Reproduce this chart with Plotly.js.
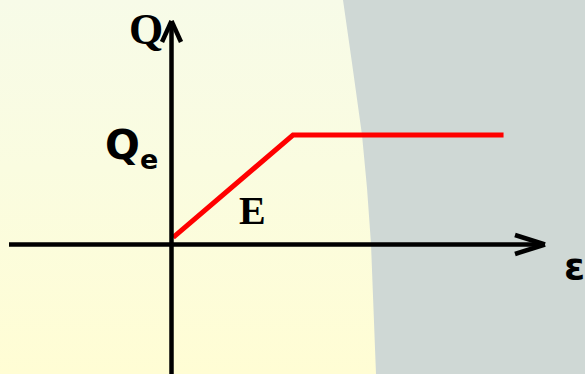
<!DOCTYPE html>
<html>
<head>
<meta charset="utf-8">
<script src="https://cdn.plot.ly/plotly-3.0.1.min.js"></script>
<style>
  html, body { margin: 0; padding: 0; }
  #chart { width: 585px; height: 374px;
    background: linear-gradient(to bottom, #F7FBE8 0%, #FAFCE0 45%, #FFFDD4 100%); }
</style>
</head>
<body>
<div id="chart"></div>
<script>
// Data (strain ε vs. stress Q, elastic–perfectly plastic)
const strain = [0.01, 1, 2.74];
const stress = [0.06, 1, 1];
const yAxisLabel = 'Q';
const xAxisLabel = 'ε';
const yieldLabel = 'Q';
const yieldSub = 'e';
const slopeLabel = 'E';

const W = 585, H = 374;
const X0 = 172, Y0 = 244, SX = 121, SY = 109;
const px = v => v / W;
const py = v => 1 - v / H;

// gray background region (right side), curved boundary
const bnd = [[343,0],[352,63],[362,135],[367,188],[371,244],[376,374]];
let path = 'M ' + bnd.map(p => px(p[0]) + ',' + py(p[1])).join(' L ');
path += ' L ' + px(W) + ',' + py(H) + ' L ' + px(W) + ',' + py(0) + ' Z';

const axisLine = {color: '#000000', width: 4.5};
function seg(x0, y0, x1, y1) {
  return {type: 'line', xref: 'paper', yref: 'paper', layer: 'above',
    x0: px(x0), y0: py(y0), x1: px(x1), y1: py(y1), line: axisLine};
}

const shapes = [
  {type: 'path', xref: 'paper', yref: 'paper', layer: 'below', path: path,
   fillcolor: '#CFD8D5', line: {width: 0}},
  // horizontal axis with open arrowhead
  seg(9, 244.5, 544, 244.5),
  seg(515, 235, 545, 244.5),
  seg(515, 254, 545, 244.5),
  // vertical axis with open arrowhead
  seg(171.5, 374, 171.5, 23),
  seg(162, 42, 171.5, 21),
  seg(181, 42, 171.5, 21)
];

const serif = '"Liberation Serif", "Times New Roman", serif';
const sans = '"DejaVu Sans", Verdana, sans-serif';
function ann(text, x, y, family, size) {
  return {text: '<b>' + text + '</b>', xref: 'paper', yref: 'paper',
    x: px(x), y: py(y), xanchor: 'center', yanchor: 'middle', showarrow: false,
    font: {family: family, size: size, color: '#000000'}};
}

const annotations = [
  ann(yAxisLabel, 146, 30, serif, 44),
  ann(yieldLabel, 122, 145, sans, 41),
  ann(yieldSub, 149, 160, sans, 27),
  ann(slopeLabel, 252, 210, serif, 40),
  ann(xAxisLabel, 574, 266, sans, 38)
];

const trace = {
  x: strain, y: stress, type: 'scatter', mode: 'lines',
  line: {color: '#FF0000', width: 5}, hoverinfo: 'skip'
};

const layout = {
  width: W, height: H,
  margin: {l: 0, r: 0, t: 0, b: 0, pad: 0},
  paper_bgcolor: 'rgba(0,0,0,0)', plot_bgcolor: 'rgba(0,0,0,0)',
  showlegend: false,
  xaxis: {range: [-X0 / SX, (W - X0) / SX], visible: false, fixedrange: true},
  yaxis: {range: [-(H - Y0) / SY, Y0 / SY], visible: false, fixedrange: true},
  shapes: shapes,
  annotations: annotations
};

Plotly.newPlot('chart', [trace], layout, {staticPlot: true, displayModeBar: false});
</script>
</body>
</html>
